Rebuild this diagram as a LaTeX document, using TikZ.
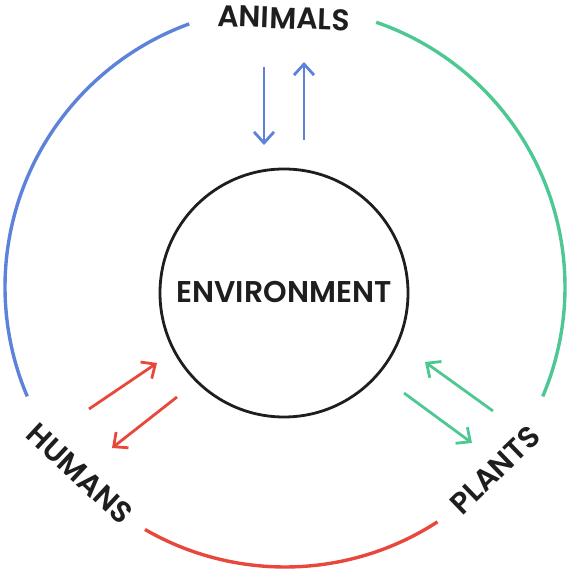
\documentclass[tikz,border=0pt]{standalone}
\usepackage{fontspec}
\setmainfont{Poppins}[BoldFont={Poppins SemiBold}]
\usetikzlibrary{arrows.meta,calc}
\definecolor{cblue}{RGB}{92,130,218}
\definecolor{cgreen}{RGB}{78,200,146}
\definecolor{cred}{RGB}{232,72,60}
\definecolor{cink}{RGB}{30,30,30}
\begin{document}
\begin{tikzpicture}[x=1pt,y=1pt,
  ring/.style={line width=3.4pt},
  flow/.style={line width=2.8pt,-{Straight Barb[length=11pt,width=20pt,line width=2.8pt]}},
  lbl/.style={font=\fontsize{30}{30}\selectfont\bfseries, text=cink, inner sep=0pt},
  envlbl/.style={font=\fontsize{30}{30}\selectfont\bfseries, text=cink, inner sep=0pt}]
\useasboundingbox (0,0) rectangle (569,571);
\coordinate (oc) at (285,284);
% outer arcs
\draw[ring,cblue] ($(oc)+(110:280)$) arc[start angle=110,end angle=203,radius=280];
\draw[ring,cgreen] ($(oc)+(71:280)$) arc[start angle=71,end angle=-23,radius=280];
\draw[ring,cred] ($(oc)+(240:280)$) arc[start angle=240,end angle=303,radius=280];
% centre
\node[circle,draw=cink,line width=2.8pt,minimum size=248pt,inner sep=0pt] (env) at (284,278) {};
\node[envlbl] (envt) at (284,279) {ENVIRONMENT};
% labels
\node[lbl,rotate=-2] (animals) at (284,553) {ANIMALS};
\node[lbl,rotate=-43] (humans) at (80,97) {HUMANS};
\node[lbl,rotate=44] (plants) at (495,101) {PLANTS};
% arrow ends
\coordinate (a1s) at (264,504); \coordinate (a1e) at (264,426);
\coordinate (a2s) at (304,431); \coordinate (a2e) at (304,509);
\coordinate (h1s) at (89,162);  \coordinate (h1e) at (157,208);
\coordinate (h2s) at (177,174); \coordinate (h2e) at (112,123);
\coordinate (p1s) at (493,160); \coordinate (p1e) at (425,209);
\coordinate (p2s) at (404,178); \coordinate (p2e) at (472,128);
\draw[flow,cblue] (a1s) -- (a1e);
\draw[flow,cblue] (a2s) -- (a2e);
\draw[flow,cred] (h1s) -- (h1e);
\draw[flow,cred] (h2s) -- (h2e);
\draw[flow,cgreen] (p1s) -- (p1e);
\draw[flow,cgreen] (p2s) -- (p2e);
\end{tikzpicture}
\end{document}
